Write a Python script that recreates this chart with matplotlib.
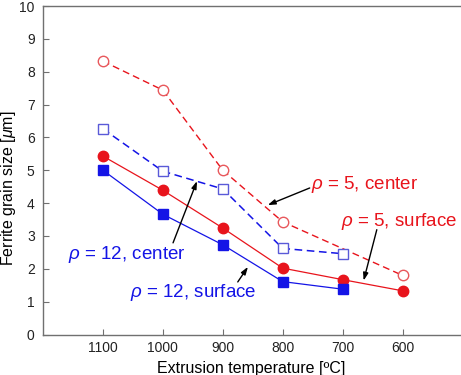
import matplotlib
matplotlib.use("Agg")
import matplotlib.pyplot as plt

plt.rcParams['font.family'] = ['Liberation Sans', 'DejaVu Sans']
plt.rcParams['mathtext.fontset'] = 'custom'
plt.rcParams['mathtext.rm'] = 'Liberation Sans'
plt.rcParams['mathtext.it'] = 'Liberation Sans:italic'

temps_a = [1100, 1000, 900, 800, 600]
rho5_center = [8.32, 7.44, 5.0, 3.43, 1.80]

temps_b = [1100, 1000, 900, 800, 700, 600]
rho5_surface = [5.43, 4.39, 3.24, 2.02, 1.67, 1.33]

temps_c = [1100, 1000, 900, 800, 700]
rho12_center = [6.26, 4.97, 4.43, 2.62, 2.46]
rho12_surface = [5.0, 3.66, 2.73, 1.61, 1.38]

xticks = [1100, 1000, 900, 800, 700, 600]
yticks = list(range(0, 11))

RED = '#e8141c'
RED_LIGHT = '#e8585c'
BLUE = '#1414e6'
BLUE_LIGHT = '#5a5ad8'

fig = plt.figure(figsize=(4.61, 3.75), dpi=100)
ax = fig.add_axes([43/461, 1 - 334.5/375, (462.5-43)/461, (334.5-6)/375])

ax.plot(temps_a, rho5_center, color=RED, lw=1.0, ls=(0, (5, 3)),
        marker='o', ms=7.5, mfc='white', mec=RED_LIGHT, mew=1.0, zorder=3)
ax.plot(temps_c, rho12_center, color=BLUE, lw=1.1, ls=(0, (5, 3)),
        marker='s', ms=7.5, mfc='white', mec=BLUE_LIGHT, mew=1.0, zorder=3)
ax.plot(temps_b, rho5_surface, color=RED, lw=0.9, ls='-',
        marker='o', ms=7.5, mfc=RED, mec=RED, zorder=3)
ax.plot(temps_c, rho12_surface, color=BLUE, lw=0.9, ls='-',
        marker='s', ms=7, mfc=BLUE, mec=BLUE, zorder=3)

ax.set_xlim(1200, 500)
ax.set_ylim(0, 10)
ax.set_xticks(xticks)
ax.set_xticklabels([str(t) for t in xticks])
ax.set_yticks(yticks)
ax.tick_params(direction='in', length=4.5, width=0.8, colors='#707070',
               labelcolor='#222222', labelsize=10)
ax.tick_params(axis='x', pad=5)
ax.tick_params(axis='y', pad=6)
for s in ['left', 'top', 'bottom']:
    ax.spines[s].set_color('#707070')
    ax.spines[s].set_linewidth(1.0)
ax.spines['right'].set_visible(False)

fig.text(251/461, 1 - 361/375, 'Extrusion temperature [ºC]', ha='center', va='top', fontsize=11.5)
fig.text(9/461, 1 - 188/375, 'Ferrite grain size [$\\mu$m]', ha='center', va='center',
         rotation=90, fontsize=11.5)

arrow = dict(arrowstyle='-|>,head_width=0.15,head_length=0.45', color='black', lw=1.0,
             shrinkA=0, shrinkB=0)

ax.text(752, 4.58, '$\\rho$ = 5, center', color=RED, fontsize=13.5, ha='left', va='center')
ax.annotate('', xy=(825, 3.94), xytext=(755, 4.46), arrowprops=arrow)

ax.text(702, 3.43, '$\\rho$ = 5, surface', color=RED, fontsize=13.5, ha='left', va='center')
ax.annotate('', xy=(665, 1.64), xytext=(643, 3.19), arrowprops=arrow)

ax.text(1158, 2.43, '$\\rho$ = 12, center', color=BLUE, fontsize=13.5, ha='left', va='center')
ax.annotate('', xy=(943, 4.67), xytext=(983, 2.79), arrowprops=arrow)

ax.text(1055, 1.27, '$\\rho$ = 12, surface', color=BLUE, fontsize=13.5, ha='left', va='center')
ax.annotate('', xy=(858, 2.06), xytext=(875, 1.60), arrowprops=arrow)

fig.savefig('out.png', dpi=100)
